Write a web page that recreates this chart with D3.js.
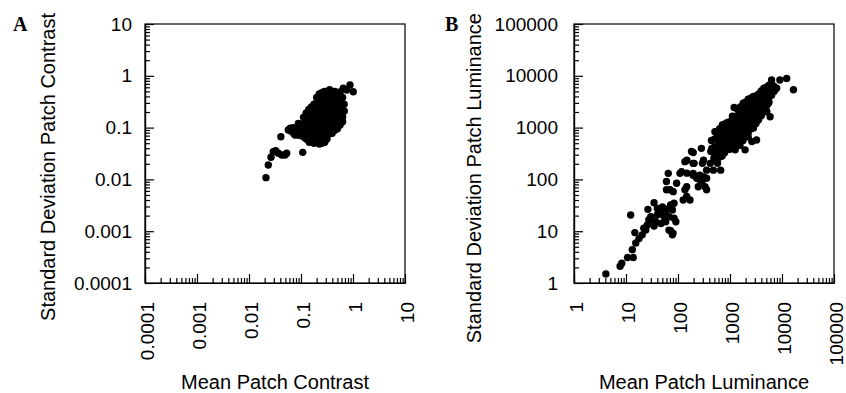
<!DOCTYPE html>
<html>
<head>
<meta charset="utf-8">
<script src="https://cdn.jsdelivr.net/npm/d3@7"></script>
<style>
  body { margin:0; background:#fff; }
  text { font-family: "Liberation Sans", Arial, sans-serif; }
</style>
</head>
<body>
<script>
// decade tick labels
const contrastTicks = [0.0001, 0.001, 0.01, 0.1, 1, 10];
const luminanceTicks = [1, 10, 100, 1000, 10000, 100000];

// panel A: [mean contrast, sd contrast]
const contrastPoints = [
  [0.0212,0.0108],[0.0235,0.019],[0.0265,0.0267],[0.0293,0.0343],[0.0326,0.0358],
  [0.0366,0.0319],[0.0425,0.0296],[0.0492,0.0296],[0.0531,0.0319],[0.041,0.0667],
  [0.108,0.0333],[0.057,0.09],[0.065,0.085],[0.077,0.072],[0.062,0.097],
  [0.071,0.100],[0.073,0.076],
  [0.089,0.120],[0.087,0.089],[0.091,0.071],
  [0.100,0.112],[0.100,0.085],
  [0.112,0.158],[0.110,0.120],[0.114,0.089],[0.112,0.066],
  [0.126,0.191],[0.126,0.141],[0.126,0.105],[0.126,0.079],[0.126,0.060],
  [0.141,0.224],[0.139,0.166],[0.143,0.126],[0.141,0.095],[0.138,0.071],[0.144,0.052],
  [0.158,0.251],[0.158,0.182],[0.158,0.138],[0.158,0.105],[0.158,0.079],[0.158,0.058],
  [0.178,0.282],[0.175,0.209],[0.180,0.158],[0.178,0.120],[0.176,0.089],[0.181,0.066],[0.178,0.050],
  [0.200,0.380],[0.200,0.295],[0.200,0.224],[0.200,0.166],[0.200,0.126],[0.200,0.095],[0.200,0.071],[0.200,0.054],
  [0.224,0.447],[0.221,0.339],[0.226,0.251],[0.224,0.191],[0.222,0.141],[0.227,0.105],[0.224,0.079],[0.220,0.060],[0.225,0.048],
  [0.251,0.47],[0.251,0.36],[0.251,0.27],[0.251,0.2],[0.251,0.15],[0.251,0.112],[0.251,0.085],[0.251,0.063],[0.251,0.05],
  [0.282,0.501],[0.278,0.380],[0.285,0.282],[0.282,0.209],[0.279,0.158],[0.284,0.120],[0.282,0.089],[0.280,0.066],[0.286,0.052],
  [0.316,0.5],[0.316,0.39],[0.316,0.3],[0.316,0.23],[0.316,0.17],[0.316,0.13],[0.316,0.1],[0.316,0.076],[0.316,0.06],
  [0.355,0.537],[0.352,0.398],[0.358,0.302],[0.355,0.224],[0.351,0.166],[0.357,0.126],[0.354,0.095],[0.356,0.076],
  [0.398,0.5],[0.398,0.38],[0.398,0.29],[0.398,0.22],[0.398,0.165],[0.398,0.126],[0.398,0.095],[0.398,0.078],
  [0.447,0.501],[0.443,0.380],[0.450,0.282],[0.447,0.209],[0.444,0.158],[0.449,0.120],[0.447,0.089],
  [0.501,0.46],[0.501,0.35],[0.501,0.26],[0.501,0.2],[0.501,0.15],[0.501,0.115],[0.501,0.095],
  [0.562,0.447],[0.557,0.331],[0.566,0.251],[0.562,0.191],[0.559,0.141],[0.564,0.112],
  [0.631,0.38],[0.631,0.28],[0.631,0.21],[0.631,0.16],[0.631,0.13],
  [0.676,0.282],[0.68,0.209],
  [0.36,0.51],[0.56,0.49],[0.65,0.574],[0.757,0.532],[0.875,0.664],[1.01,0.493],[0.52,0.427],[0.39,0.427]
];

// panel B: [mean luminance, sd luminance]
const luminancePoints = [
  [4.1,1.5],[7.7,2.1],[8.3,2.4],[10.7,3.1],[13.8,3.1],[12.3,20.5],[13.2,4.4],[15.4,5.9],
  [14.8,9.4],[17.8,7.2],[20.5,8.5],[22,11.4],[24,10.5],[25.7,13.2],[27.5,16.6],[26.4,26.4],
  [30,16.6],[30,19],[34.6,35.5],[34.6,12.6],[37,15.2],[40,20.5],[40,27.5],[43,22],[47,14.1],
  [48,27.5],[50,22],[50,29.5],[54,19],[58,24],[58,15.2],[62,19],[67,19],[67,27.5],[67,10.5],
  [72,32],[72,10.2],[78,25.7],[78,8.5],[80,9.1],[84,34.7],[84,17.8],[91,15.2],
  [60,91],[65,131],[60,63],[70,63],[81,58],[94,84],[109,131],[136,220],[196,330],
  [147,47],[170,40],[126,40],[147,72],[136,63],[196,131],[229,105],[263,98],[309,112],
  [355,105],[331,72],[245,72],[288,91],[355,63],[427,347],[490,257],[575,204],[661,151],
  [204,204],[295,204],[182,347],[148,234],[195,204],[117,141],[148,132],[195,120],[263,120],
  [309,234],[417,204],[355,151],[479,151],[282,398],[550,275],[646,372],
  [5500,2950],[5100,2040],[5900,1620],[3240,575],[2630,537],[1950,372],[1260,372],
  [16600,5370],[12300,8900],[9100,8300],[6300,8300],[7900,5750],[1200,2450],[513,832],
  [2820,977],[1550,457],[2240,661],
  [447,398],[440,562],
  [501,300],[501,420],[501,600],
  [562,224],[550,316],[570,447],[556,631],[566,794],
  [631,270],[631,380],[631,520],[631,720],[631,950],
  [708,282],[700,398],[715,562],[705,794],[712,1122],
  [794,330],[794,460],[794,630],[794,880],[794,1180],
  [891,398],[880,525],[900,708],[886,1000],[895,1259],
  [1000,380],[1000,520],[1000,700],[1000,950],[1000,1300],
  [1122,417],[1110,562],[1135,759],[1118,1000],[1128,1318],[1115,1660],
  [1259,480],[1259,640],[1259,880],[1259,1200],[1259,1650],
  [1413,501],[1400,661],[1425,891],[1408,1202],[1420,1585],[1405,2239],
  [1585,540],[1585,720],[1585,980],[1585,1350],[1585,1850],[1585,2500],
  [1778,562],[1760,759],[1790,1000],[1770,1318],[1785,1778],[1765,2399],[1790,2951],
  [1995,700],[1995,950],[1995,1300],[1995,1750],[1995,2400],[1995,3100],
  [2239,794],[2220,1047],[2255,1413],[2230,1905],[2250,2512],[2235,3548],
  [2512,950],[2512,1250],[2512,1700],[2512,2300],[2512,3100],[2512,3700],
  [2818,1000],[2790,1318],[2840,1778],[2810,2399],[2830,3162],[2800,3981],
  [3162,1200],[3162,1600],[3162,2200],[3162,3000],[3162,4100],
  [3548,1413],[3520,1905],[3570,2512],[3540,3311],[3560,4467],
  [3981,1700],[3981,2300],[3981,3100],[3981,4200],[3981,5100],
  [4467,1995],[4430,2630],[4490,3548],[4450,4786],[4480,5754],
  [5012,2600],[5012,3500],[5012,4700],[5012,6000],
  [5623,3162],[5580,4169],[5650,5495],[5610,6607],
  [6310,4200],[6310,5600],[6310,6800],
  [7079,5012],[7000,6310]
];

const svg = d3.select("body").append("svg")
    .attr("width", 846)
    .attr("height", 393);

function minorTicks(ticks) {
  const out = [];
  ticks.slice(0, -1).forEach(d => {
    for (let k = 2; k < 10; k++) out.push(d * k);
  });
  return out;
}

function panel(o) {
  const w = 260, h = 259;
  const g = svg.append("g");
  const x = d3.scaleLog()
      .domain([o.ticks[0], o.ticks[o.ticks.length - 1]])
      .range([o.left, o.left + w]);
  const y = d3.scaleLog()
      .domain([o.ticks[0], o.ticks[o.ticks.length - 1]])
      .range([o.top + h, o.top]);
  const minor = minorTicks(o.ticks);

  // ticks point inward
  const xa = g.append("g").attr("transform", `translate(0,${o.top + h})`);
  xa.append("g").call(d3.axisBottom(x).tickValues(minor).tickSize(-5).tickSizeOuter(0).tickFormat(""));
  xa.append("g").call(d3.axisBottom(x).tickValues(o.ticks).tickSize(-9).tickSizeOuter(0).tickFormat(""));

  const ya = g.append("g").attr("transform", `translate(${o.left},0)`);
  ya.append("g").call(d3.axisLeft(y).tickValues(minor).tickSize(-5).tickSizeOuter(0).tickFormat(""));
  ya.append("g").call(d3.axisLeft(y).tickValues(o.ticks).tickSize(-9).tickSizeOuter(0)
      .tickPadding(o.yPad).tickFormat(d => String(d)));

  g.selectAll(".domain, .tick line").attr("stroke", "#000").attr("stroke-width", 1.2);
  ya.selectAll("text")
      .attr("font-family", "Liberation Sans, Arial, sans-serif")
      .attr("font-size", 19)
      .attr("fill", "#000");

  g.append("rect")
      .attr("x", o.left).attr("y", o.top)
      .attr("width", w).attr("height", h)
      .attr("fill", "none").attr("stroke", "#000").attr("stroke-width", 1.2);

  // rotated x tick labels
  g.selectAll("text.xl")
    .data(o.ticks)
    .join("text")
      .attr("class", "xl")
      .attr("transform", d => `translate(${x(d) + 9},302) rotate(-90)`)
      .attr("text-anchor", "end")
      .attr("font-size", 19)
      .text(d => String(d));

  g.selectAll("circle")
    .data(o.points)
    .join("circle")
      .attr("cx", d => x(d[0]))
      .attr("cy", d => y(d[1]))
      .attr("r", 3.7)
      .attr("fill", "#000");

  g.append("text")
      .attr("x", o.left + w / 2)
      .attr("y", 389)
      .attr("text-anchor", "middle")
      .attr("font-size", 20)
      .text(o.xTitle);

  g.append("text")
      .attr("transform", `translate(${o.yTitleX},13) rotate(-90)`)
      .attr("text-anchor", "end")
      .attr("font-size", 20)
      .text(o.yTitle);

  g.append("text")
      .attr("x", o.letterX)
      .attr("y", 31)
      .style("font-family", "'Liberation Serif', 'Times New Roman', serif")
      .attr("font-weight", "bold")
      .attr("font-size", 20)
      .text(o.letter);
}

panel({
  left: 145, top: 24, ticks: contrastTicks, points: contrastPoints,
  yPad: 13, yTitleX: 55, letterX: 13, letter: "A",
  xTitle: "Mean Patch Contrast", yTitle: "Standard Deviation Patch Contrast"
});

panel({
  left: 574, top: 24, ticks: luminanceTicks, points: luminancePoints,
  yPad: 16, yTitleX: 481, letterX: 445, letter: "B",
  xTitle: "Mean Patch Luminance", yTitle: "Standard Deviation Patch Luminance"
});
</script>
</body>
</html>
